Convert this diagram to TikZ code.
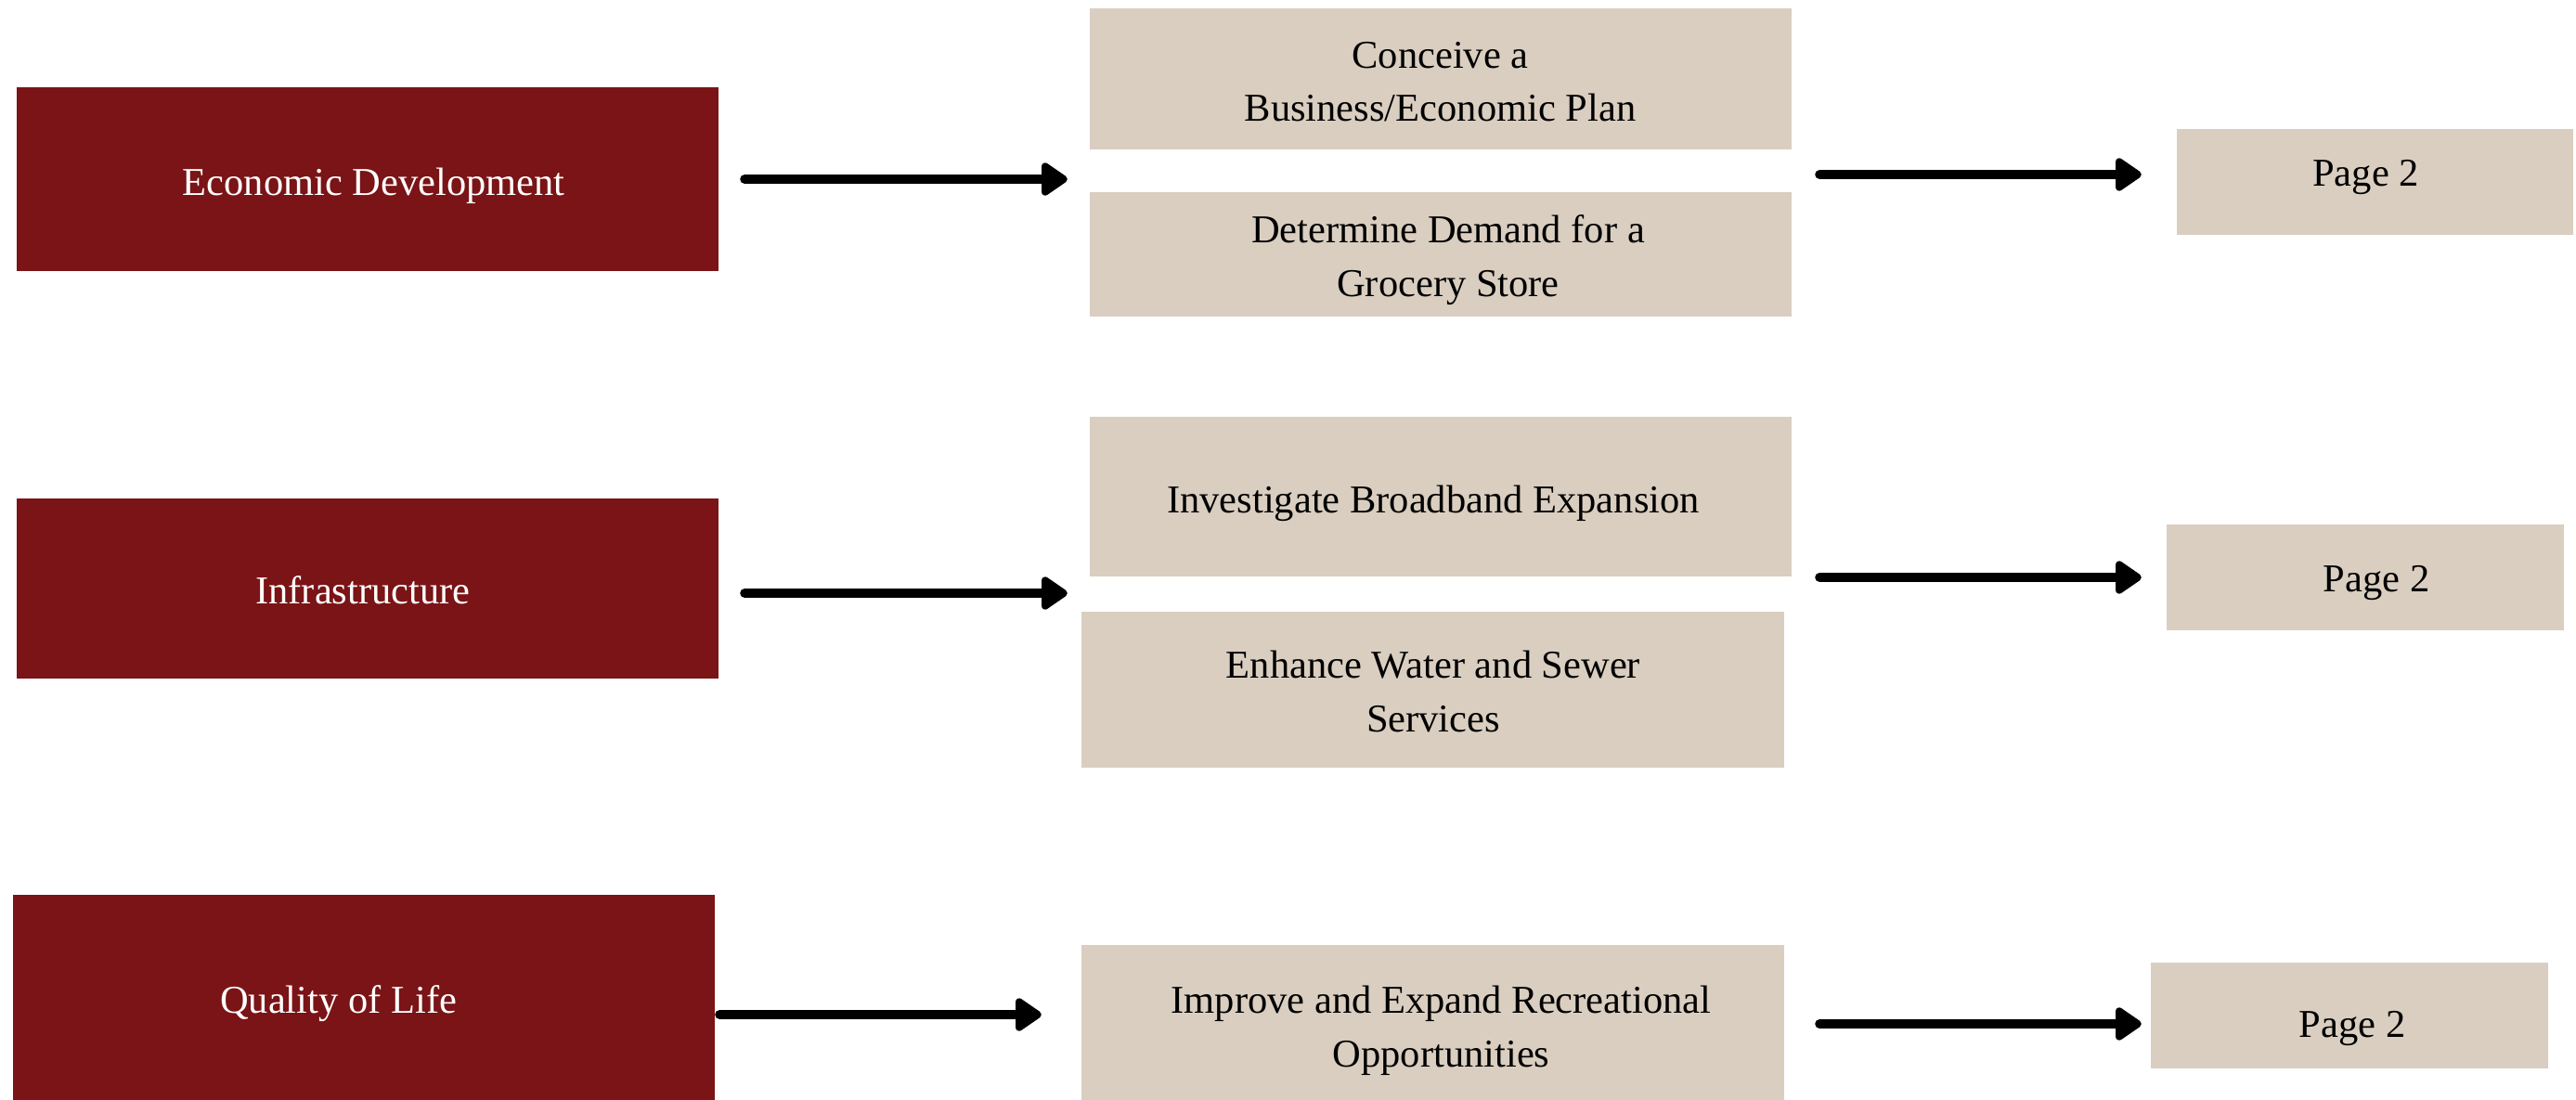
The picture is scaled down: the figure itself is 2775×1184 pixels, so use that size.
\documentclass[tikz,border=0pt]{standalone}
\usepackage{fontspec}
\setmainfont{Liberation Serif}
\usetikzlibrary{arrows.meta}
\definecolor{boxred}{RGB}{122,20,22}
\definecolor{boxbeige}{RGB}{217,206,192}
\begin{document}
\begin{tikzpicture}[x=1pt,y=-1pt,
  redbox/.style={fill=boxred, inner sep=0pt},
  beigebox/.style={fill=boxbeige, inner sep=0pt},
  lbl/.style={anchor=base, inner sep=0pt, align=center,
    font=\fontsize{42.5}{57.5}\selectfont},
  redlbl/.style={lbl, text=white},
  beigelbl/.style={lbl, text=black},
  conn/.style={line width=10pt, line cap=round, -{Triangle[length=31pt,width=40pt,round]}}
]
\useasboundingbox (0,0) rectangle (2775,1184);
\clip (0,0) rectangle (2775,1184);
% left column
\node[redbox, minimum width=756pt, minimum height=198pt] (ed) at (396,193) {};
\node[redbox, minimum width=756pt, minimum height=194pt] (inf) at (396,634) {};
\node[redbox, minimum width=756pt, minimum height=228pt] (qol) at (392,1078) {};
\node[redlbl] (edt) at (402.8,210) {Economic Development};
\node[redlbl] (inft) at (391,650.7) {Infrastructure};
\node[redlbl] (qolt) at (364.6,1091.5) {Quality of Life};
% middle column
\node[beigebox, minimum width=756pt, minimum height=152pt] (con) at (1552,85) {};
\node[beigebox, minimum width=756pt, minimum height=134pt] (dem) at (1552,274) {};
\node[beigebox, minimum width=756pt, minimum height=172pt] (inv) at (1552,535) {};
\node[beigebox, minimum width=757pt, minimum height=168pt] (enh) at (1543.5,743) {};
\node[beigebox, minimum width=757pt, minimum height=176pt] (imp) at (1543.5,1106) {};
% base anchor of a multi-line label = baseline of its last line
\node[beigelbl] (cont) at (1551.5,130.7) {Conceive a\\Business/Economic Plan};
\node[beigelbl] (demt) at (1560,319.3) {Determine Demand for a\\Grocery Store};
\node[beigelbl] (invt) at (1544,552.3) {Investigate Broadband Expansion};
\node[beigelbl] (enht) at (1544,788.3) {Enhance Water and Sewer\\Services};
\node[beigelbl] (impt) at (1552.5,1149) {Improve and Expand Recreational\\Opportunities};
% right column
\node[beigebox, minimum width=427pt, minimum height=114pt] (p1) at (2558.5,196) {};
\node[beigebox, minimum width=428pt, minimum height=114pt] (p2) at (2548,622) {};
\node[beigebox, minimum width=428pt, minimum height=114pt] (p3) at (2531,1094) {};
\node[beigelbl] (p1t) at (2548.5,200) {Page 2};
\node[beigelbl] (p2t) at (2560,637.5) {Page 2};
\node[beigelbl] (p3t) at (2534,1117) {Page 2};
% connectors
\draw[conn, shorten <=28pt, shorten >=24pt] (ed.east) -- (ed.east -| con.west);
\draw[conn, shorten <=30pt, shorten >=38pt] ([yshift=8pt]p1.west -| con.east) -- ([yshift=8pt]p1.west);
\draw[conn, shorten <=28pt, shorten >=24pt] ([yshift=-5pt]inf.east) -- ([yshift=-5pt]inf.east -| inv.west);
\draw[conn, shorten <=30pt, shorten >=27pt] (p2.west -| inv.east) -- (p2.west);
\draw[conn, shorten <=5pt, shorten >=43pt] ([yshift=-15pt]qol.east) -- ([yshift=-15pt]qol.east -| imp.west);
\draw[conn, shorten <=38pt, shorten >=10pt] ([yshift=-9pt]p3.west -| imp.east) -- ([yshift=-9pt]p3.west);
\end{tikzpicture}
\end{document}
